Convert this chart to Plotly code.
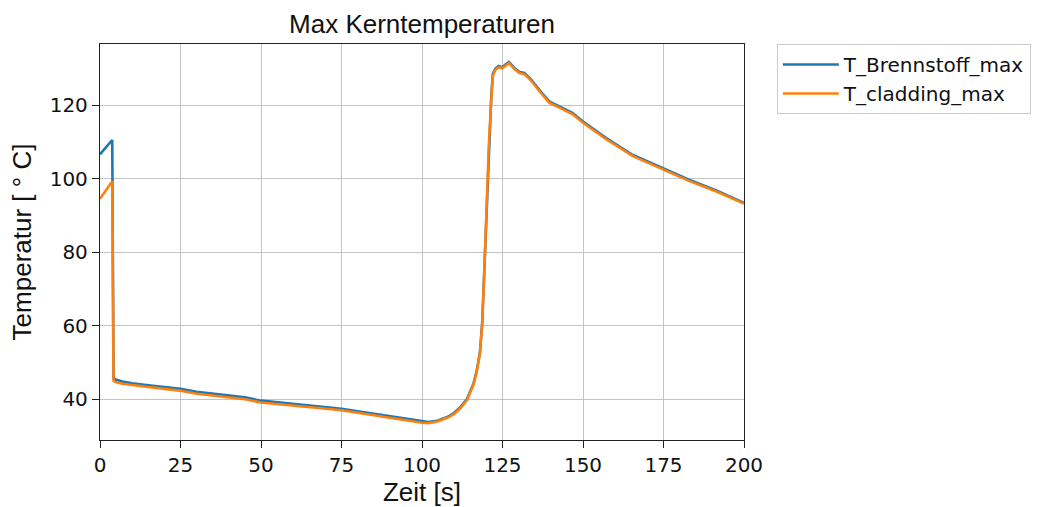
import plotly.graph_objects as go

# time axis [s]
t = [0, 3.8, 4.2, 5, 7, 10, 15, 20, 25, 30, 40, 45, 50, 60, 70, 75, 80, 90, 95, 100,
     102, 105, 108, 110, 112, 114, 116, 117, 118, 118.7, 119.4, 119.9, 120.7, 121.5,
     122, 122.8, 123.8, 124.9, 126, 127, 128.7, 130.3, 131.8, 133.9, 137, 139.6,
     142.7, 146.8, 150, 157.2, 165.5, 174.8, 183.1, 191.4, 200]

T_brennstoff = [106.6, 110.5, 45.7, 45.3, 44.8, 44.3, 43.8, 43.3, 42.8, 42.0, 41.0, 40.5, 39.6,
                38.7, 37.8, 37.4, 36.7, 35.4, 34.6, 33.9,
                33.8, 34.2, 35.2, 36.3, 37.9, 40.1, 44.3, 47.8, 52.8, 60.8, 76.5, 90.2, 108.5, 122.0,
                128.5, 129.9, 130.6, 130.3, 131.1, 131.7, 130.1, 129.0, 128.7, 126.9, 123.5, 120.9,
                119.6, 117.8, 115.5, 111.0, 106.4, 102.8, 99.6, 96.8, 93.4]

T_cladding = [94.5, 99.3, 45.0, 44.6, 44.2, 43.8, 43.3, 42.8, 42.3, 41.5, 40.5, 40.0, 39.1,
              38.2, 37.4, 37.0, 36.3, 35.0, 34.2, 33.6,
              33.5, 34.0, 35.0, 36.0, 37.6, 39.8, 44.0, 47.5, 52.5, 60.5, 76.0, 89.6, 107.8, 121.5,
              128.0, 129.6, 130.3, 130.0, 130.8, 131.4, 129.8, 128.7, 128.4, 126.6, 123.2, 120.6,
              119.3, 117.5, 115.2, 110.7, 106.1, 102.5, 99.3, 96.5, 93.2]

series_names = ["T_Brennstoff_max", "T_cladding_max"]
colors = ["#1f77b4", "#ff7f0e"]

x_ticks = [0, 25, 50, 75, 100, 125, 150, 175, 200]
y_ticks = [40, 60, 80, 100, 120]

LABEL_FONT = "Liberation Sans, Arial, sans-serif"
TICK_FONT = "DejaVu Sans, sans-serif"

fig = go.Figure()
for name, vals, col in zip(series_names, [T_brennstoff, T_cladding], colors):
    fig.add_trace(go.Scatter(x=t, y=vals, mode="lines", name=name,
                             line=dict(color=col, width=2.6)))

axis_common = dict(showline=True, linecolor="#222", linewidth=1.3, mirror=True,
                   ticks="outside", ticklen=7, tickcolor="#222", tickwidth=1.3,
                   showgrid=True, gridcolor="#c4c4c4", gridwidth=1.2, zeroline=False,
                   tickfont=dict(family=TICK_FONT, size=20, color="#111"))

fig.update_layout(
    width=1037, height=507,
    margin=dict(l=100, r=293, t=44, b=67, autoexpand=False),
    paper_bgcolor="white", plot_bgcolor="white",
    title=dict(text="Max Kerntemperaturen", x=(100 + 744) / 2 / 1037, xanchor="center",
               y=1 - 24 / 507, yanchor="middle",
               font=dict(family=LABEL_FONT, size=26, color="#111")),
    xaxis=dict(range=[0, 200], tickvals=x_ticks,
               title=dict(text="Zeit [s]", font=dict(family=LABEL_FONT, size=26, color="#111"), standoff=4),
               **axis_common),
    yaxis=dict(range=[28.9, 136.6], tickvals=y_ticks,
               title=dict(text="Temperatur [ ° C]", font=dict(family=LABEL_FONT, size=26, color="#111"), standoff=10),
               **axis_common),
    legend=dict(x=1.051, y=1.0, xanchor="left", yanchor="top",
                bordercolor="#cccccc", borderwidth=1, bgcolor="white",
                font=dict(family=TICK_FONT, size=20, color="#111"),
                tracegroupgap=0, itemwidth=56),
    showlegend=True,
)

fig.write_html("out.html")
